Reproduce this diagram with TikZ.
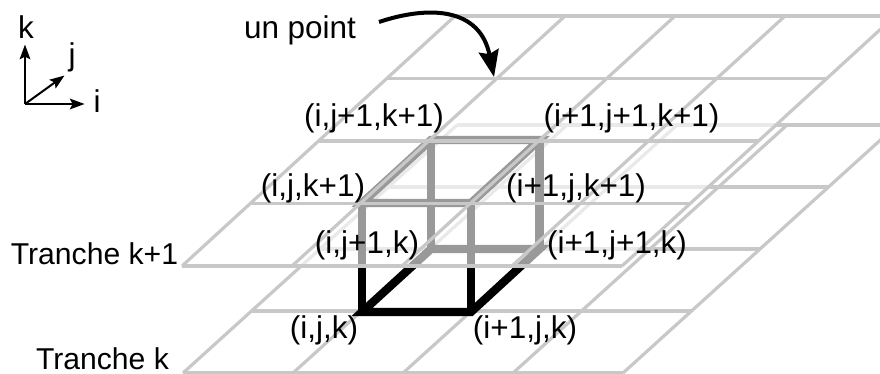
\documentclass[tikz,border=0pt]{standalone}
\usepackage{fontspec}
\setmainfont{Liberation Sans}
\usetikzlibrary{arrows.meta,calc}
\definecolor{gridc}{RGB}{200,200,200}
\tikzset{
  lab/.style={font=\fontsize{23.6}{27}\selectfont, inner sep=0pt},
  tranche/.style={font=\fontsize{22.6}{26}\selectfont, inner sep=0pt, anchor=base},
  gline/.style={draw=gridc, line width=2.4pt},
  edge/.style={draw=black, line width=6.2pt, miter limit=4},
  veil/.style={fill=white, fill opacity=0.6},
  axe/.style={-{Stealth[length=11pt,width=8pt,inset=2pt]}, draw=black, line width=1.5pt},
  fleche/.style={-{Stealth[length=20pt,width=15pt,inset=2.5pt]}, draw=black, line width=3pt}
}
\begin{document}
\begin{tikzpicture}[x=0.75pt,y=-0.75pt]
  \useasboundingbox (0,0) rectangle (880,374);
  \clip (0,0) rectangle (880,374);
  % tranche k
  \foreach \n in {0,...,4} {
    \draw[gline] ({183+68.5*\n},{373-62*\n}) -- ++(440,0);
    \draw[gline] ({183+110*\n},373) -- ++(274,-248);
  }
  % cube
  \coordinate (ijk) at (362,312);
  \coordinate (Ijk) at (471,312);
  \coordinate (iJk) at (431,249);
  \coordinate (IJk) at (539.5,249);
  \coordinate (ijK) at (362,203);
  \coordinate (IjK) at (471,203);
  \coordinate (iJK) at (431,140);
  \coordinate (IJK) at (539.5,140);
  \draw[edge] (ijk) -- (Ijk) -- (IJk) -- (iJk) -- cycle;
  \draw[edge] (ijK) -- (IjK) -- (IJK) -- (iJK) -- cycle;
  \foreach \p/\q in {ijk/ijK,Ijk/IjK,iJk/iJK,IJk/IJK} \draw[edge] (\p) -- (\q);
  % tranche k+1
  \fill[veil] (182,266) -- (622,266) -- (895,16) -- (455,16) -- cycle;
  \foreach \n in {0,...,4} {
    \draw[gline] ({182+68.25*\n},{266-62.5*\n}) -- ++(440,0);
    \draw[gline] ({182+110*\n},266) -- ++(273,-250);
  }
  % repere
  \coordinate (o) at (25,104);
  \node[lab, anchor=base] (labi) at (97,113) {i};
  \node[lab, anchor=base] (labj) at (72,66) {j};
  \node[lab, anchor=base] (labk) at (26,39) {k};
  \draw[axe, shorten >=6.5pt] (o) -- (o -| labi.west);
  \draw[axe, shorten >=3.5pt] (o) -- (labj.south west);
  \draw[axe, shorten >=4pt] (o) -- (o |- labk.south);
  % un point
  \node[lab, anchor=base] (pt) at (300,39) {un point};
  \coordinate (pdep) at (379,22);
  \coordinate (parr) at (494,77);
  \draw[fleche] (pdep) .. controls (430,5) and (480,8) .. (parr);
  % sommets
  \node[lab] (nijk) at (324,330) {(i,j,k)};
  \node[lab] (nIjk) at (525,330) {(i+1,j,k)};
  \node[lab] (niJk) at (367,245) {(i,j+1,k)};
  \node[lab] (nIJk) at (617,245) {(i+1,j+1,k)};
  \node[lab] (nijK) at (313,188) {(i,j,k+1)};
  \node[lab] (nIjK) at (576,188) {(i+1,j,k+1)};
  \node[lab] (niJK) at (374,118) {(i,j+1,k+1)};
  \node[lab] (nIJK) at (631.5,118) {(i+1,j+1,k+1)};
  \node[tranche] (tk1) at (94.5,264) {Tranche k+1};
  \node[tranche] (tk) at (102.5,369) {Tranche k};
\end{tikzpicture}
\end{document}
